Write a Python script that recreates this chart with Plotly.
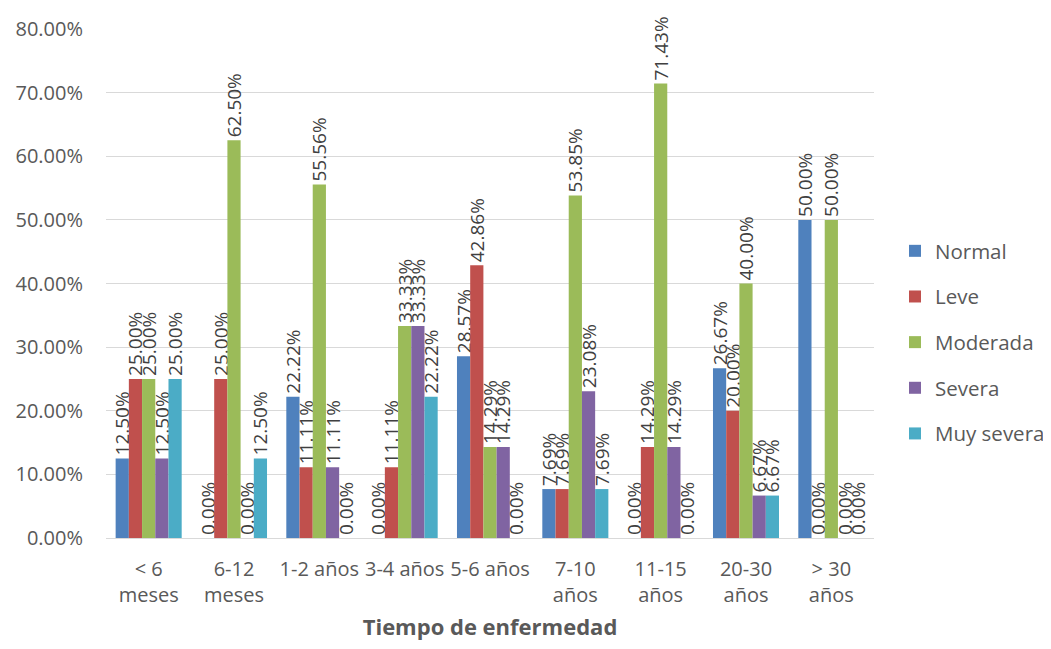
import plotly.graph_objects as go

categories = ["< 6<br>meses", "6-12<br>meses", "1-2 años", "3-4 años", "5-6 años",
              "7-10<br>años", "11-15<br>años", "20-30<br>años", "> 30<br>años"]
series_names = ["Normal", "Leve", "Moderada", "Severa", "Muy severa"]
normal = [0.1250, 0.0000, 0.2222, 0.0000, 0.2857, 0.0769, 0.0000, 0.2667, 0.5000]
leve = [0.2500, 0.2500, 0.1111, 0.1111, 0.4286, 0.0769, 0.1429, 0.2000, 0.0000]
moderada = [0.2500, 0.6250, 0.5556, 0.3333, 0.1429, 0.5385, 0.7143, 0.4000, 0.5000]
severa = [0.1250, 0.0000, 0.1111, 0.3333, 0.1429, 0.2308, 0.1429, 0.0667, 0.0000]
muy_severa = [0.2500, 0.1250, 0.0000, 0.2222, 0.0000, 0.0769, 0.0000, 0.0667, 0.0000]
colors = ["#4F81BD", "#C0504D", "#9BBB59", "#8064A2", "#4BACC6"]
y_ticks = [0, 0.1, 0.2, 0.3, 0.4, 0.5, 0.6, 0.7, 0.8]

series = [normal, leve, moderada, severa, muy_severa]
font_family = "Open Sans, Noto Sans, sans-serif"

fig = go.Figure()
for i, (name, vals, col) in enumerate(zip(series_names, series, colors)):
    fig.add_trace(go.Bar(
        x=categories, y=vals, name=name,
        marker=dict(color=col, line=dict(width=0)),
        texttemplate="%{y:.2%}", textposition="outside", textangle=-90,
        textfont=dict(size=19, color="#404040", family=font_family),
        cliponaxis=False, constraintext="none",
        legendgroup=name,
    ))

fig.update_layout(
    width=1035, height=633,
    paper_bgcolor="white", plot_bgcolor="white",
    barmode="group", bargap=0.226, bargroupgap=0,
    margin=dict(l=98, r=169, t=21, b=103),
    font=dict(family=font_family, size=20, color="#595959"),
    showlegend=True,
    legend=dict(xref="container", yref="container", x=0.857, y=0.6477,
                xanchor="left", yanchor="top",
                traceorder="grouped", tracegroupgap=16,
                font=dict(size=20.5, color="#595959")),
    uniformtext=dict(mode=False),
)
fig.update_xaxes(
    title=dict(text="<b>Tiempo de enfermedad</b>", font=dict(size=22, color="#595959"), standoff=25),
    showline=True, linecolor="#D9D9D9", linewidth=1, ticks="",
    tickfont=dict(size=20, color="#595959"), tickangle=0, automargin=False,
    ticklabelstandoff=13,
)
fig.update_yaxes(
    range=[0, 0.8], tickvals=y_ticks, tickformat=".2%",
    showgrid=True, gridcolor="#D9D9D9", gridwidth=1, zeroline=False,
    tickfont=dict(size=20, color="#595959"), ticks="", ticklen=0,
    ticklabelstandoff=22, automargin=False,
)

fig.write_html("out.html")
